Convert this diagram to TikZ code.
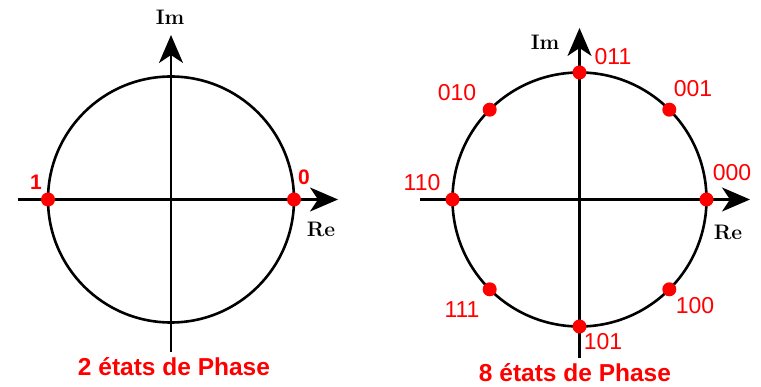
\documentclass[tikz,border=0pt]{standalone}
\usepackage{fontspec}
\newfontfamily\arialf{Liberation Sans}
\usetikzlibrary{arrows.meta,calc}
\tikzset{
  axis/.style={line width=2.6pt, -{Stealth[length=28pt,width=24pt,inset=8pt]}},
  circ/.style={line width=2.6pt},
  pt/.style={circle, fill=red, inner sep=0pt, minimum size=14pt},
  axlab/.style={font=\fontsize{21}{21}\selectfont\bfseries, inner sep=0pt},
  bitlab/.style={text=red, font=\arialf\fontsize{23}{23}\selectfont, inner sep=0pt},
  bitlabb/.style={text=red, font=\arialf\fontsize{21}{21}\selectfont\bfseries, inner sep=0pt},
  title/.style={text=red, font=\arialf\fontsize{24.5}{24.5}\selectfont\bfseries, inner sep=0pt},
}
\begin{document}
\begin{tikzpicture}[x=1pt,y=-1pt]
\useasboundingbox (0,0) rectangle (761,387);
% ---------- left: 2 states ----------
\coordinate (c1) at (171,199.5);
\draw[circ] (c1) circle[radius=123];
\coordinate (v1b) at (171,352);
\coordinate (v1t) at (171,35);
\coordinate (h1l) at (18,199.5);
\coordinate (h1r) at (338,199.5);
\draw[axis] (v1b) -- (v1t);
\draw[axis] (h1l) -- (h1r);
\node[pt] (p1) at (48,199.5) {};
\node[pt] (p0) at (294,199.5) {};
\node[bitlabb] (l1) at (36,182) {1};
\node[bitlabb] (l0) at (304,177) {0};
\node[axlab] (im1) at (170,17) {Im};
\node[axlab] (re1) at (321,229) {Re};
\node[title] (t1) at (174,367) {2 états de Phase};
% ---------- right: 8 states ----------
\coordinate (c2) at (579.5,199.5);
\draw[circ] (c2) circle[radius=127];
\coordinate (v2b) at (579.5,358);
\coordinate (v2t) at (579.5,28);
\coordinate (h2l) at (420,199.5);
\coordinate (h2r) at (750,199.5);
\draw[axis] (v2b) -- (v2t);
\draw[axis] (h2l) -- (h2r);
\foreach \a/\n in {0/q000,45/q001,90/q011,135/q010,180/q110,225/q111,270/q101,315/q100}
  \node[pt] (\n) at ($(c2)+(\a:127 and -127)$) {};
\node[bitlab] (b011) at (613,57) {011};
\node[bitlab] (b001) at (693,89) {001};
\node[bitlab] (b010) at (457,93) {010};
\node[bitlab] (b110) at (422,183) {110};
\node[bitlab] (b000) at (732,173) {000};
\node[bitlab] (b111) at (462,310) {111};
\node[bitlab] (b100) at (695,306) {100};
\node[bitlab] (b101) at (603,342) {101};
\node[axlab] (im2) at (545,42) {Im};
\node[axlab] (re2) at (728,232) {Re};
\node[title] (t2) at (575,373) {8 états de Phase};
\end{tikzpicture}
\end{document}
